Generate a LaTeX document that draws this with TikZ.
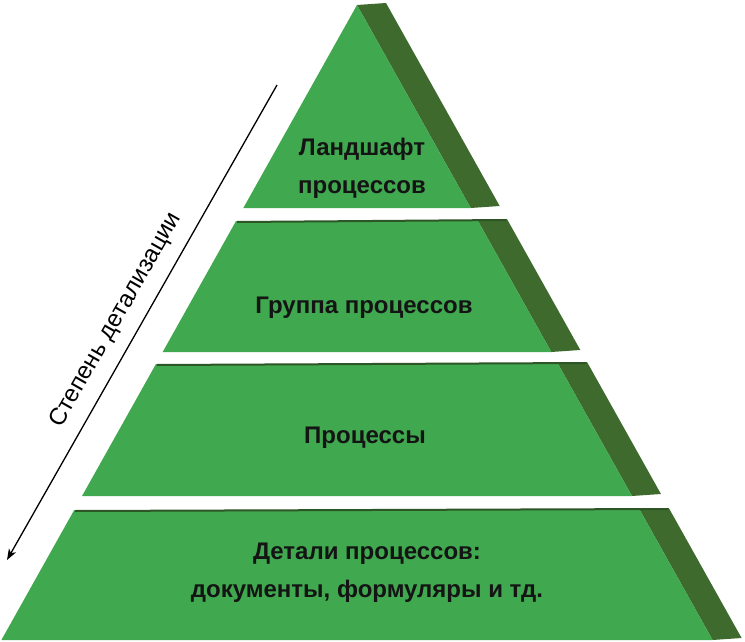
\documentclass[tikz,border=0pt]{standalone}
\usepackage{fontspec}
\setmainfont{Liberation Sans}
\usetikzlibrary{arrows.meta}
\definecolor{facegreen}{RGB}{64,168,79}
\definecolor{sidegreen}{RGB}{62,106,46}
\definecolor{rimgreen}{RGB}{45,85,38}
\tikzset{
  face/.style={fill=facegreen},
  side/.style={fill=sidegreen},
  rim/.style={draw=rimgreen, line width=2pt},
  level/.style={font=\bfseries\fontsize{24}{38}\selectfont, text=black!92, align=center},
}
\begin{document}
\begin{tikzpicture}[x=1pt,y=-1pt]
\useasboundingbox (0,0) rectangle (745,642);
% layers of the pyramid, top and bottom rows
\foreach \t/\b in {5/208, 221/352, 364/496, 510/640} {
  \pgfmathsetmacro{\lt}{357-0.56*(\t-5)}
  \pgfmathsetmacro{\rt}{357+0.56*(\t-5)}
  \pgfmathsetmacro{\lb}{357-0.56*(\b-5)}
  \pgfmathsetmacro{\rb}{357+0.56*(\b-5)}
  \fill[side] (\rt,\t) -- (\rt+29,\t-2) -- (\rb+29,\b-2) -- (\rb,\b) -- cycle;
  \fill[face] (\lt,\t) -- (\rt,\t) -- (\rb,\b) -- (\lb,\b) -- cycle;
}
\foreach \t in {221,364,510} {
  \pgfmathsetmacro{\lt}{357-0.56*(\t-5)}
  \pgfmathsetmacro{\rt}{357+0.56*(\t-5)}
  \draw[rim] (\lt+1,\t+1) -- (\rt+28,\t-1);
}

\node[level] (landscape) at (362,168) {Ландшафт\\процессов};
\node[level] (group) at (364,308) {Группа процессов};
\node[level] (processes) at (365,438) {Процессы};
\node[level] (details) at (367,573) {Детали процессов:\\документы, формуляры и тд.};

% detail axis
\coordinate (coarse) at (277,85);
\coordinate (fine) at (7,560);
\draw[-{Stealth[length=11pt,width=8pt,inset=3pt]}, line width=1.3pt] (coarse) -- (fine)
  node[pos=0.52, sloped, above=9pt, font=\fontsize{24}{28}\selectfont] (axislabel) {Степень детализации};
\end{tikzpicture}
\end{document}
